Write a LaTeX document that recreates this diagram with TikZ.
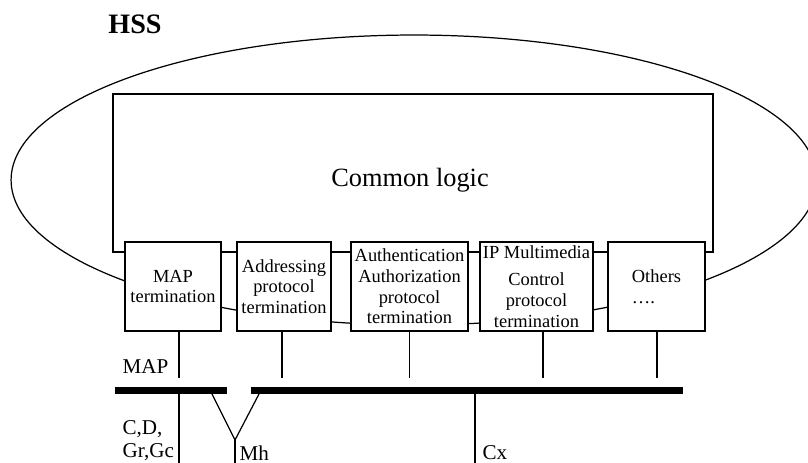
\documentclass[tikz,border=0pt]{standalone}
\usepackage{fontspec}
\setmainfont{Liberation Serif}
\usetikzlibrary{positioning,shapes.geometric}

\begin{document}
\begin{tikzpicture}[
    x=0.02cm, y=-0.02cm,
    line width=0.7pt,
    term/.style={draw, fill=white, inner sep=1pt, align=center,
        minimum height=1.78cm, font=\fontsize{10.5}{11.8}\selectfont},
    lbl/.style={anchor=west, inner sep=0pt, align=left,
        font=\fontsize{12}{13}\selectfont},
    bar/.style={line width=4pt}
]
\useasboundingbox (0,0) rectangle (808,463);

% HSS outline
\node[draw, ellipse, minimum width=16.12cm, minimum height=5.8cm] (hss) at (414,180) {};
\node[font=\fontsize{16}{18}\selectfont\bfseries] (hsslabel) at (135,24) {HSS};

% Common logic
\node[draw, fill=white, minimum width=12cm, minimum height=3.16cm] (logic) at (413,173) {};
\node[font=\fontsize{15}{17}\selectfont] (logictext) at (410,180) {Common logic};

% protocol terminations
\node[term, minimum width=1.92cm] (map) at (173,286.5) {MAP\\termination};
\node[term, minimum width=1.88cm] (addr) at (284,286.5) {Addressing\\protocol\\termination};
\node[term, minimum width=2.34cm] (auth) at (409.5,286.5) {Authentication\\Authorization\\protocol\\termination};
\node[term, minimum width=2.26cm] (ims) at (536.5,286.5) {IP Multimedia\\[4pt]Control\\protocol\\termination};
\node[term, minimum width=1.94cm, align=left] (other) at (656.5,286.5) {Others\\\ldots.};

\foreach \n/\dx in {map/0.12, addr/-0.04, auth/0, ims/0.13, other/0.01}
    \draw ([xshift=\dx cm]\n.south) -- ++(0,46);

% bars
\coordinate (barA) at (115,390.5);
\coordinate (barB) at (227,390.5);
\coordinate (barC) at (251,390.5);
\coordinate (barD) at (683,390.5);
\draw[bar] (barA) -- (barB);
\draw[bar] (barC) -- (barD);

% interfaces
\coordinate (mh) at (235,440);
\draw (179,394) -- (179,463);
\draw (212,394) -- (mh) -- (259,394);
\draw (mh) -- (235,463);
\draw (475,394) -- (475,463);

\node[lbl] (maplbl) at (122,367) {MAP};
\node[lbl] (cdlbl) at (122,441) {C,D,\\Gr,Gc};
\node[lbl] (mhlbl) at (239,453) {Mh};
\node[lbl] (cxlbl) at (482,453) {Cx};
\end{tikzpicture}
\end{document}
